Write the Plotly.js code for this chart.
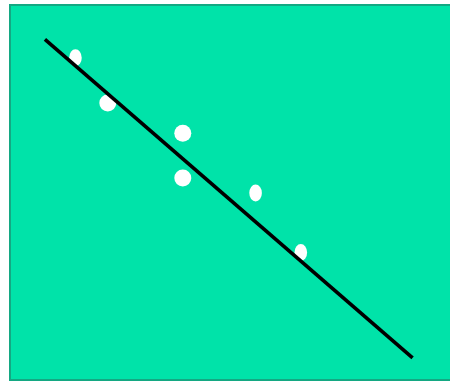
<!DOCTYPE html>
<html>
<head>
<meta charset="utf-8">
<script src="https://cdn.plot.ly/plotly-3.0.1.min.js"></script>
<style>
html,body{margin:0;padding:0;overflow:hidden;background:#ffffff;}
#chart{width:460px;height:382px;}
</style>
</head>
<body>
<div id="chart"></div>
<script>
// Round points
const roundX = [2.71, 4.75, 4.75];
const roundY = [8.20, 7.35, 6.08];
// Narrow (oval) points
const ovalX = [1.83, 6.73, 7.96];
const ovalY = [9.48, 5.66, 3.98];
// Fitted line
const lineX = [1, 11];
const lineY = [10, 1];

const traces = [
  {x: roundX, y: roundY, type: 'scatter', mode: 'markers',
   marker: {color: '#ffffff', size: 17, line: {width: 0}}, hoverinfo: 'skip'},
  {x: ovalX, y: ovalY, type: 'scatter', mode: 'markers',
   marker: {color: '#ffffff', size: 17, line: {width: 0}}, hoverinfo: 'skip'},
  {x: lineX, y: lineY, type: 'scatter', mode: 'lines',
   line: {color: '#000000', width: 3.6}, hoverinfo: 'skip'}
];

const layout = {
  width: 460, height: 382,
  margin: {l: 10, r: 0, t: 5, b: 2, pad: 0},
  paper_bgcolor: '#ffffff',
  plot_bgcolor: '#00E3A9',
  showlegend: false,
  xaxis: {range: [0.05, 12.29], visible: false, showgrid: false, zeroline: false, fixedrange: true},
  yaxis: {range: [0.376, 10.97], visible: false, showgrid: false, zeroline: false, fixedrange: true},
  shapes: [
    {type: 'rect', xref: 'paper', yref: 'paper', x0: 0, x1: 1, y0: 0, y1: 1,
     line: {color: '#14A883', width: 2}, fillcolor: 'rgba(0,0,0,0)', layer: 'above'}
  ]
};

Plotly.newPlot('chart', traces, layout, {staticPlot: true, displayModeBar: false}).then(function(gd){
  const tr = gd.querySelectorAll('.scatterlayer .trace');
  if (tr.length > 1) {
    const rx = 6.3, ry = 8.5;
    const d = 'M' + rx + ',0A' + rx + ',' + ry + ' 0 1,1 0,-' + ry + 'A' + rx + ',' + ry + ' 0 0,1 ' + rx + ',0Z';
    tr[1].querySelectorAll('path.point').forEach(function(p){ p.setAttribute('d', d); });
  }
});
</script>
</body>
</html>
